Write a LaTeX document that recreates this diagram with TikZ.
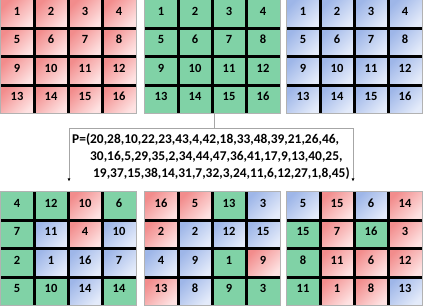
\documentclass[tikz,border=0pt]{standalone}
\usepackage{fontspec}
\setmainfont{Carlito}
\usepackage{xcolor}
\usepackage{tikz}
\usetikzlibrary{
  calc,
  positioning,
  arrows.meta
}
\definecolor{redA}{RGB}{242,140,140}
\definecolor{redB}{RGB}{254,226,226}
\definecolor{greenA}{RGB}{128,210,166}
\definecolor{blueA}{RGB}{158,182,232}
\definecolor{blueB}{RGB}{228,235,250}

\begin{document}
\begin{tikzpicture}[>=Latex, x=1pt, y=-1pt]
  \tikzset{
    cell/.style={
      minimum width=34pt, minimum height=28.3pt, inner sep=0pt,
      text height=9pt, text depth=6pt,
      font=\fontsize{12.5}{14}\selectfont\bfseries
    },
    cellr/.style={cell, top color=redA, bottom color=redB, shading angle=45},
    cellg/.style={cell, fill=greenA},
    cellb/.style={cell, top color=blueA, bottom color=blueB, shading angle=45},
    sep/.style={line width=3pt, black},
    rim/.style={draw=gray!60, line width=0.6pt},
    feed/.style={draw=gray!70, line width=0.7pt},
    permtxt/.style={inner sep=0pt, font=\fontsize{13.4}{16}\selectfont\bfseries},
    % every node/.style={draw=red}
  }
\useasboundingbox (0,0) rectangle (423,307);

% source blocks
\foreach \blk/\ox in {r/0, g/144, b/286} {
  \foreach \n in {1,...,16} {
    \pgfmathtruncatemacro{\cc}{mod(\n-1,4)}
    \pgfmathtruncatemacro{\rr}{(\n-1)/4}
    \node[cell\blk] (\blk\n) at (\ox+17+34*\cc, 14.15+28.3*\rr) {\n};
  }
}

% permuted blocks
\foreach \v/\c [count=\n] in {4/g,12/g,10/r,6/g, 7/g,11/b,4/r,10/b,
                              2/g,1/b,16/b,7/b, 5/g,10/g,14/b,14/g} {
  \pgfmathtruncatemacro{\cc}{mod(\n-1,4)}
  \pgfmathtruncatemacro{\rr}{(\n-1)/4}
  \node[cell\c] (pa\n) at (17+34*\cc, 192+14.15+28.3*\rr) {\v};
}
\foreach \v/\c [count=\n] in {16/r,5/r,13/g,3/b, 2/r,2/b,12/b,15/b,
                              4/b,9/b,1/g,9/r, 13/r,8/b,9/g,3/g} {
  \pgfmathtruncatemacro{\cc}{mod(\n-1,4)}
  \pgfmathtruncatemacro{\rr}{(\n-1)/4}
  \node[cell\c] (pb\n) at (144+17+34*\cc, 192+14.15+28.3*\rr) {\v};
}
\foreach \v/\c [count=\n] in {5/b,15/r,6/b,14/r, 15/g,7/r,16/g,3/r,
                              8/g,11/r,6/r,12/r, 11/g,1/r,8/r,13/b} {
  \pgfmathtruncatemacro{\cc}{mod(\n-1,4)}
  \pgfmathtruncatemacro{\rr}{(\n-1)/4}
  \node[cell\c] (pc\n) at (286+17+34*\cc, 192+14.15+28.3*\rr) {\v};
}

% grid lines
\foreach \blk in {r,g,b,pa,pb,pc} {
  \draw[sep] (\blk1.north east) -- (\blk13.south east);
  \draw[sep] (\blk2.north east) -- (\blk14.south east);
  \draw[sep] (\blk3.north east) -- (\blk15.south east);
  \draw[sep] (\blk1.south west) -- (\blk4.south east);
  \draw[sep] (\blk5.south west) -- (\blk8.south east);
  \draw[sep] (\blk9.south west) -- (\blk12.south east);
  \draw[rim] (\blk1.north west) rectangle (\blk16.south east);
}

% permutation text
\node[permtxt, anchor=base west] (pline1) at (72,143.3)
  {P=(20,28,10,22,23,43,4,42,18,33,48,39,21,26,46,};
\node[permtxt, anchor=base west] (pline2) at ($(pline1.base west)+(18,17.5)$)
  {30,16,5,29,35,2,34,44,47,36,41,17,9,13,40,25,};
\node[permtxt, anchor=base west] (pline3) at ($(pline2.base west)+(3,17)$)
  {19,37,15,38,14,31,7,32,3,24,11,6,12,27,1,8,45)};

\coordinate (tap) at ($(g15.south west)+(3,0)$);
\coordinate (busL) at (69,128.5);
\coordinate (busR) at (353,128.5);
\coordinate (dropL) at (69,181.5);
\coordinate (dropR) at (353,181.5);

\draw[feed] (tap) -- (tap |- busL);
\draw[feed, {Latex[length=3pt,width=3pt,black]}-{Latex[length=3pt,width=3pt,black]}]
  (dropL) -- (busL) -- (busR) -- (dropR);

\end{tikzpicture}
\end{document}
